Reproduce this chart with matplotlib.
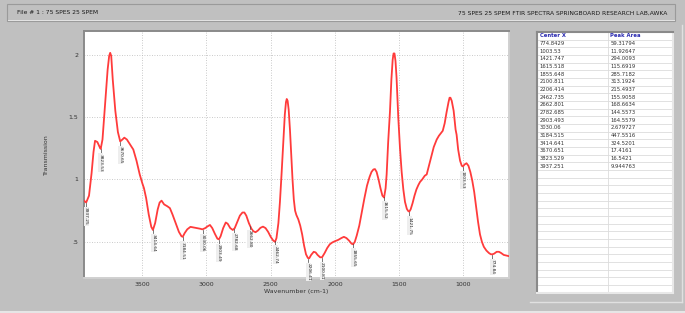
import numpy as np
import matplotlib.pyplot as plt
from matplotlib.lines import Line2D
from matplotlib.patches import Rectangle

W, H = 685, 313

# spectrum (wavenumber, transmission)
wavenumber = [3954, 3937, 3915, 3895, 3880, 3868, 3850, 3830, 3824, 3810, 3790, 3770, 3758, 3750, 3742,
              3730, 3710, 3690, 3672, 3655, 3640, 3620, 3595, 3570, 3545, 3520, 3500, 3487, 3470,
              3450, 3430, 3417, 3400, 3380, 3365, 3350, 3330, 3305, 3285, 3265, 3240, 3215, 3195,
              3185, 3170, 3150, 3125, 3100, 3075, 3050, 3032, 3010, 2990, 2973, 2955, 2935, 2915,
              2903, 2890, 2870, 2850, 2835, 2815, 2795, 2780, 2760, 2740, 2720, 2705, 2690, 2670,
              2650, 2635, 2618, 2600, 2580, 2560, 2540, 2520, 2500, 2480, 2466, 2455, 2440, 2428,
              2415, 2402, 2390, 2381, 2375, 2368, 2360, 2350, 2340, 2330, 2320, 2310, 2300, 2285, 2270,
              2255, 2240, 2225, 2210, 2200, 2185, 2165, 2150, 2135, 2115, 2100, 2080, 2060, 2040,
              2020, 2000, 1975, 1950, 1930, 1910, 1890, 1870, 1858, 1845, 1830, 1810, 1790, 1770,
              1750, 1730, 1715, 1700, 1688, 1675, 1660, 1645, 1630, 1617, 1605, 1597, 1585, 1571,
              1560, 1550, 1543, 1536, 1528, 1520, 1506, 1493, 1480, 1467, 1454, 1440, 1430, 1421, 1410,
              1395, 1380, 1365, 1350, 1337, 1320, 1300, 1285, 1270, 1250, 1230, 1207, 1190, 1175,
              1160, 1145, 1130, 1115, 1107, 1100, 1090, 1075, 1060, 1052, 1040, 1025, 1012, 1003, 990,
              975, 960, 945, 930, 915, 900, 885, 870, 855, 840, 820, 800, 785, 773, 760, 740, 722,
              705, 685, 665, 644]
transmission = [0.83, 0.815, 0.87, 1.05, 1.22, 1.31, 1.30, 1.255, 1.245, 1.32, 1.60, 1.88, 1.99, 2.015, 1.99,
                1.80, 1.55, 1.38, 1.305, 1.32, 1.335, 1.32, 1.28, 1.24, 1.15, 1.04, 0.97, 0.93, 0.85,
                0.72, 0.62, 0.595, 0.65, 0.76, 0.815, 0.83, 0.80, 0.785, 0.77, 0.72, 0.65, 0.58, 0.545,
                0.54, 0.57, 0.60, 0.62, 0.615, 0.61, 0.605, 0.60, 0.61, 0.625, 0.635, 0.61, 0.565, 0.525,
                0.52, 0.545, 0.61, 0.655, 0.645, 0.61, 0.595, 0.61, 0.66, 0.71, 0.735, 0.735, 0.71, 0.65,
                0.605, 0.585, 0.577, 0.59, 0.612, 0.622, 0.61, 0.58, 0.54, 0.51, 0.50, 0.53, 0.65, 0.82,
                1.05, 1.30, 1.52, 1.62, 1.645, 1.63, 1.56, 1.40, 1.20, 1.00, 0.84, 0.75, 0.715, 0.68, 0.63,
                0.56, 0.47, 0.40, 0.37, 0.368, 0.395, 0.42, 0.415, 0.395, 0.376, 0.376, 0.41, 0.45, 0.48,
                0.495, 0.505, 0.515, 0.53, 0.54, 0.53, 0.51, 0.485, 0.48, 0.50, 0.55, 0.63, 0.74, 0.85,
                0.95, 1.02, 1.06, 1.08, 1.083, 1.06, 1.00, 0.93, 0.87, 0.855, 0.93, 1.04, 1.30, 1.545,
                1.80, 1.96, 2.01, 2.01, 1.95, 1.82, 1.49, 1.25, 1.06, 0.92, 0.82, 0.765, 0.748, 0.742, 0.76,
                0.81, 0.87, 0.92, 0.955, 0.98, 1.00, 1.03, 1.04, 1.10, 1.18, 1.26, 1.32, 1.35, 1.37,
                1.39, 1.45, 1.54, 1.62, 1.655, 1.655, 1.63, 1.55, 1.40, 1.358, 1.24, 1.15, 1.11, 1.104, 1.12,
                1.13, 1.11, 1.06, 0.99, 0.90, 0.78, 0.66, 0.56, 0.50, 0.46, 0.43, 0.41, 0.40, 0.40, 0.405,
                0.42, 0.42, 0.41, 0.395, 0.39, 0.385]

center_x = ['774.8429', '1003.53', '1421.747', '1615.518', '1855.648', '2100.811', '2206.414',
            '2462.735', '2662.801', '2782.685', '2903.493', '3030.06', '3184.515', '3414.641',
            '3670.651', '3823.529', '3937.251']
peak_area = ['59.31794', '11.92647', '294.0093', '115.6919', '285.7182', '313.1924', '215.4937',
             '155.9058', '168.6634', '144.5573', '164.5579', '2.679727', '447.5516', '324.5201',
             '17.4161', '16.5421', '9.944763']

xticks = [3500, 3000, 2500, 2000, 1500, 1000]
yticks = [0.5, 1, 1.5, 2]
ytick_labels = ['.5', '1', '1.5', '2']

title_left = 'File # 1 : 75 SPES 25 SPEM'
title_right = '75 SPES 25 SPEM FTIR SPECTRA SPRINGBOARD RESEARCH LAB,AWKA'

bg = '#c0c0c0'


def fx(px):
    return px / W


def fy(py):
    return 1 - py / H


fig = plt.figure(figsize=(W / 100, H / 100), dpi=100, facecolor=bg)

# title bar
fig.add_artist(Rectangle((fx(7), fy(21)), fx(675) - fx(7), fy(4) - fy(21), transform=fig.transFigure,
                         facecolor=bg, edgecolor='#9a9a9a', lw=0.8))
fig.add_artist(Line2D([fx(8), fx(674)], [fy(20), fy(20)], transform=fig.transFigure, color='#e4e4e4', lw=0.7))
fig.text(fx(17), fy(13), title_left, fontsize=4.3, color='#1a1a1a', va='center', ha='left')
fig.text(fx(667), fy(13), title_right, fontsize=4.3, color='#1a1a1a', va='center', ha='right')

# spectrum
ax = fig.add_axes([fx(84), fy(278), fx(509) - fx(84), fy(31) - fy(278)])
ax.set_facecolor('white')
ax.plot(wavenumber, transmission, color='#ff3b3b', lw=1.3, zorder=3, solid_joinstyle='round')
ax.set_xlim(3954, 644)
ax.set_ylim(0.21, 2.19)
ax.set_xticks(xticks)
ax.set_xticklabels([str(t) for t in xticks])
ax.set_yticks(yticks)
ax.set_yticklabels(ytick_labels)
ax.tick_params(length=0, labelsize=4.5, colors='#333333', pad=3)
ax.tick_params(axis='y', pad=4)
ax.grid(True, ls=(0, (1, 2)), color='#b8b8b8', lw=0.6)
ax.set_xlabel('Wavenumber (cm-1)', fontsize=4.5, color='#333333', labelpad=1)
ax.set_ylabel('Transmission', fontsize=4.5, color='#333333', labelpad=14)
for name, sp in ax.spines.items():
    sp.set_color('#8a8a8a' if name in ('left', 'top') else '#d0d0d0')
    sp.set_linewidth(1.4)

# peak labels hanging under the minima
wn_asc = np.array(wavenumber[::-1], dtype=float)
tr_asc = np.array(transmission[::-1], dtype=float)
for c in center_x:
    xv = float(c)
    yv = np.interp(xv, wn_asc, tr_asc)
    ax.plot([xv, xv], [yv - 0.005, yv - 0.035], color='#444444', lw=0.5, zorder=4)
    ax.text(xv, yv - 0.04, '%.2f' % xv, rotation=270, fontsize=3.1, color='#1e1e1e',
            ha='center', va='top', zorder=4,
            bbox=dict(boxstyle='square,pad=0.1', facecolor='#eeeeee', edgecolor='none'))

# peak table
tl, tr_, tt, tb = 537, 673, 32, 292.7
tax = fig.add_axes([fx(tl), fy(tb), fx(tr_) - fx(tl), fy(tt) - fy(tb)])
tax.set_xlim(0, 1)
n_rows = 34
tax.set_ylim(n_rows, 0)
tax.set_facecolor('white')
tax.set_xticks([])
tax.set_yticks([])
for name, sp in tax.spines.items():
    sp.set_color('#8a8a8a' if name in ('left', 'top') else '#e8e8e8')
    sp.set_linewidth(1.5)
for r in range(1, n_rows):
    tax.axhline(r, color='#dcdcdc', lw=0.6)
col_split = (607.7 - tl) / (tr_ - tl)
tax.axvline(col_split, color='#dcdcdc', lw=0.6)
tax.text(0.02, 0.5, 'Center X', fontsize=3.8, color='#2a2ab0', fontweight='bold', va='center')
tax.text(col_split + 0.02, 0.5, 'Peak Area', fontsize=3.8, color='#2a2ab0', fontweight='bold', va='center')
for i, (c, a) in enumerate(zip(center_x, peak_area)):
    tax.text(0.02, i + 1.5, c, fontsize=3.8, color='#333333', va='center')
    tax.text(col_split + 0.02, i + 1.5, a, fontsize=3.8, color='#333333', va='center')

# panel edges
fig.add_artist(Line2D([fx(530), fx(682)], [fy(302), fy(302)], transform=fig.transFigure, color='#e0e0e0', lw=1))
fig.add_artist(Line2D([fx(682), fx(682)], [fy(25), fy(302)], transform=fig.transFigure, color='#e0e0e0', lw=1))
fig.add_artist(Line2D([0, 1], [fy(311.5), fy(311.5)], transform=fig.transFigure, color='#e6e6e6', lw=1.5))

fig.savefig('out.png', dpi=100, facecolor=bg)
